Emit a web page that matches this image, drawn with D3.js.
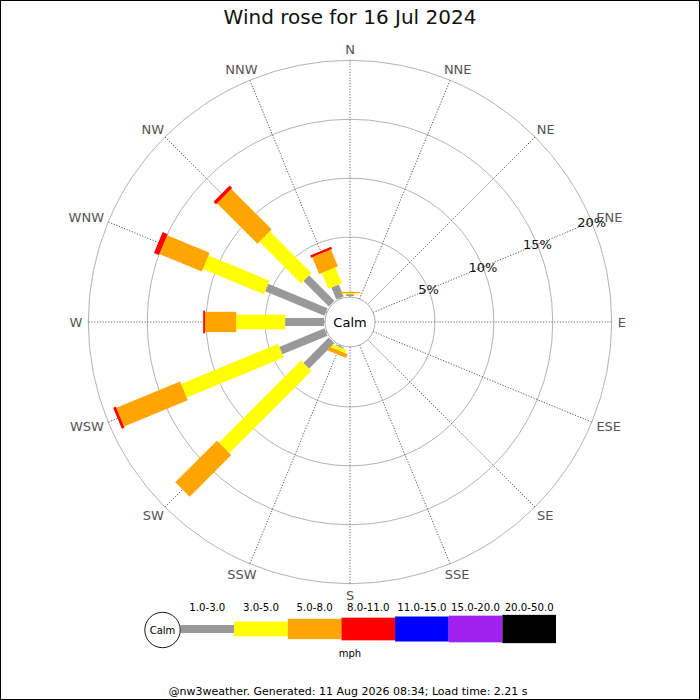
<!DOCTYPE html>
<html>
<head>
<meta charset="utf-8">
<script src="https://cdn.jsdelivr.net/npm/d3@7"></script>
<style>
  body { margin: 0; background: #fff; }
  text { font-family: 'DejaVu Sans', sans-serif; }
</style>
</head>
<body>
<div id="grafica"></div>
<script>
// data (percent of the day, per direction)
directions = ['N', 'NNE', 'NE', 'ENE', 'E', 'ESE', 'SE', 'SSE',
              'S', 'SSW', 'SW', 'WSW', 'W', 'WNW', 'NW', 'NNW']
speedBands = ['1.0-3.0', '3.0-5.0', '5.0-8.0', '8.0-11.0', '11.0-15.0', '15.0-20.0', '20.0-50.0']
//               N    NNE NE ENE E ESE SE SSE S  SSW   SW    WSW   W     WNW   NW    NNW
pct_1_3   = [0.15, 0, 0, 0, 0, 0, 0, 0, 0, 0.10, 3.05, 4.15, 3.30, 5.45, 3.05, 1.10]
pct_3_5   = [0.10, 0, 0, 0, 0, 0, 0, 0, 0, 0.30, 9.85, 8.90, 4.15, 5.60, 5.00, 1.45]
pct_5_8   = [0.10, 0, 0, 0, 0, 0, 0, 0, 0, 0.35, 5.00, 5.85, 2.65, 3.90, 4.85, 1.55]
pct_8_11  = [0,    0, 0, 0, 0, 0, 0, 0, 0, 0,    0,    0.25, 0.15, 0.45, 0.30, 0.20]
pct_11_15 = [0, 0, 0, 0, 0, 0, 0, 0, 0, 0, 0, 0, 0, 0, 0, 0]
pct_15_20 = [0, 0, 0, 0, 0, 0, 0, 0, 0, 0, 0, 0, 0, 0, 0, 0]
pct_20_50 = [0, 0, 0, 0, 0, 0, 0, 0, 0, 0, 0, 0, 0, 0, 0, 0]
ringTicks = [5, 10, 15, 20]

bandColors = ['#999999', '#ffff00', '#ffa500', '#ff0000', '#0000ff', '#a020f0', '#000000']
bandWidths = [8, 14.7, 20.3, 22.7, 25, 26.7, 28.3]

ancho_total = 700
alto_total  = 700
cx = 350
cy = 322

svg = d3
        .select('#grafica')
        .append('svg')
        .attr('width', ancho_total)
        .attr('height', alto_total)

svg.append('rect')
    .attr('x', 0.5).attr('y', 0.5)
    .attr('width', ancho_total - 1).attr('height', alto_total - 1)
    .attr('fill', '#fff')
    .attr('stroke', '#000')

svg.append('text')
    .attr('x', 350)
    .attr('y', 24)
    .attr('text-anchor', 'middle')
    .attr('font-size', '20px')
    .attr('fill', '#111')
    .text('Wind rose for 16 Jul 2024')

// 1. Scales
r = d3
      .scaleLinear()
      .domain([0, 20])
      .range([26, 261.7])
angle = d3
      .scaleLinear()
      .domain([0, directions.length])
      .range([0, 360])
color = d3
      .scaleOrdinal()
      .domain(speedBands)
      .range(bandColors)
width = d3
      .scaleOrdinal()
      .domain(speedBands)
      .range(bandWidths)

rad = (i) => angle(i) * Math.PI / 180

g = svg
      .append('g')
      .attr('transform', `translate(${cx}, ${cy})`)

// 2. Rings
g.selectAll('.ring')
  .data(ringTicks)
  .enter()
  .append('circle')
  .attr('r', (d) => r(d))
  .attr('fill', 'none')
  .attr('stroke', '#aaaaaa')
  .attr('stroke-width', 0.9)

// 3. Spokes
spokes = g.selectAll('.spoke')
  .data(directions)
  .enter()
  .append('g')
  .attr('transform', (d, i) => `rotate(${angle(i)})`)
spokes.append('line')
  .attr('x1', 0).attr('x2', 0)
  .attr('y1', -25).attr('y2', -r(20))
  .attr('stroke', '#444')
  .attr('stroke-width', 0.8)
  .attr('stroke-dasharray', '1.2,1.6')

// 4. Stacked bars
rows = directions.map((d, i) => ({
  dir: d,
  '1.0-3.0': pct_1_3[i],
  '3.0-5.0': pct_3_5[i],
  '5.0-8.0': pct_5_8[i],
  '8.0-11.0': pct_8_11[i],
  '11.0-15.0': pct_11_15[i],
  '15.0-20.0': pct_15_20[i],
  '20.0-50.0': pct_20_50[i]
}))
series = d3.stack().keys(speedBands)(rows)

series.forEach((s) => {
  g.append('g')
    .selectAll('rect')
    .data(s.map((v, i) => ({ v: v, i: i })).filter((d) => d.v[1] > d.v[0]))
    .enter()
    .append('rect')
    .attr('transform', (d) => `rotate(${angle(d.i)})`)
    .attr('x', -width(s.key) / 2)
    .attr('width', width(s.key))
    .attr('y', (d) => -r(d.v[1]))
    .attr('height', (d) => r(d.v[1]) - r(d.v[0]))
    .attr('fill', color(s.key))
})

// 5. Calm circle
g.append('circle')
  .attr('r', 25)
  .attr('fill', '#fff')
  .attr('stroke', '#999')
  .attr('stroke-width', 0.8)
g.append('text')
  .attr('text-anchor', 'middle')
  .attr('dy', '0.36em')
  .attr('font-size', '13px')
  .attr('fill', '#000')
  .text('Calm')

// 6. Direction labels, pushed out so the box touches the spoke end
labelR = r(20) + 6
halfH = 5.3
g.selectAll('.dirlabel')
  .data(directions)
  .enter()
  .append('text')
  .attr('dy', '0.36em')
  .attr('text-anchor', 'middle')
  .attr('font-size', '13px')
  .attr('fill', '#555')
  .text((d) => d)
  .each(function (d, i) {
    halfW = this.getComputedTextLength() / 2
    s = Math.sin(rad(i))
    c = Math.cos(rad(i))
    d3.select(this)
      .attr('x', labelR * s + halfW * s)
      .attr('y', -labelR * c - halfH * c)
  })

// 7. Ring labels along ENE
g.selectAll('.ringlabel')
  .data(ringTicks)
  .enter()
  .append('text')
  .attr('x', (d) => r(d) * Math.sin(rad(3)))
  .attr('y', (d) => -r(d) * Math.cos(rad(3)))
  .attr('dy', '0.36em')
  .attr('text-anchor', 'middle')
  .attr('font-size', '13px')
  .attr('fill', '#111')
  .text((d) => d + '%')

// 8. Legend
lx = d3
      .scaleBand()
      .domain(speedBands)
      .range([180.5, 556])
ly = 629

legend = svg.append('g')
legend.selectAll('rect')
  .data(speedBands)
  .enter()
  .append('rect')
  .attr('x', (d) => lx(d))
  .attr('width', lx.bandwidth())
  .attr('y', (d) => ly - width(d) / 2)
  .attr('height', (d) => width(d))
  .attr('fill', (d) => color(d))
legend.selectAll('text')
  .data(speedBands)
  .enter()
  .append('text')
  .attr('x', (d) => lx(d) + lx.bandwidth() / 2)
  .attr('y', 611)
  .attr('text-anchor', 'middle')
  .attr('font-size', '10.2px')
  .attr('fill', '#000')
  .text((d) => d)
legend.append('circle')
  .attr('cx', 162.5)
  .attr('cy', 630)
  .attr('r', 17.7)
  .attr('fill', '#fff')
  .attr('stroke', '#000')
  .attr('stroke-width', 0.9)
legend.append('text')
  .attr('x', 162.5)
  .attr('y', 630)
  .attr('dy', '0.36em')
  .attr('text-anchor', 'middle')
  .attr('font-size', '10px')
  .attr('fill', '#000')
  .text('Calm')
legend.append('text')
  .attr('x', 350)
  .attr('y', 657)
  .attr('text-anchor', 'middle')
  .attr('font-size', '10px')
  .attr('fill', '#000')
  .text('mph')

svg.append('text')
  .attr('x', 348)
  .attr('y', 695)
  .attr('text-anchor', 'middle')
  .attr('font-size', '11px')
  .attr('fill', '#000')
  .text('@nw3weather. Generated: 11 Aug 2026 08:34; Load time: 2.21 s')
</script>
</body>
</html>
